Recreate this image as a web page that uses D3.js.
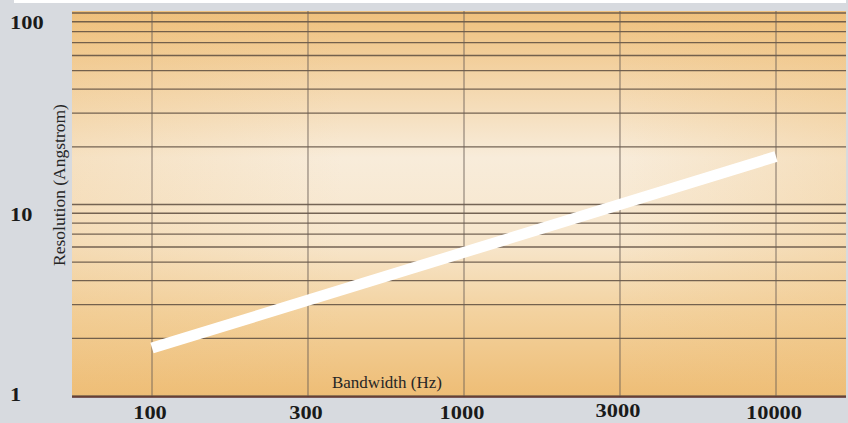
<!DOCTYPE html>
<html>
<head>
<meta charset="utf-8">
<script src="https://cdn.jsdelivr.net/npm/d3@7"></script>
<style>
  body { margin: 0; background: #d7dadf; }
  svg { display: block; }
</style>
</head>
<body>
<svg id="chart"></svg>
<script>
// bandwidth (Hz) vs resolution (Angstrom), log-log
const bandwidth = [100, 10000];
const resolution = [1.78, 17.8];

const xTickValues = [100, 316.2, 1000, 3162, 10000];
const xTickLabels = ['100', '300', '1000', '3000', '10000'];
const yTickValues = [1, 10, 100];
const yTickLabels = ['1', '10', '100'];
const yGridValues = [1, 2, 3, 4, 5, 6, 7, 8, 9, 10, 20, 30, 40, 50, 60, 70, 80, 90, 100];

const width = 848, height = 423;
const plot = { left: 72, right: 846, top: 11, bottom: 397 };

const svg = d3.select('#chart').attr('width', width).attr('height', height);

// white strip along the top
svg.append('rect').attr('x', 14).attr('y', 0).attr('width', 832).attr('height', 3).attr('fill', '#ffffff');

const defs = svg.append('defs');
const grad = defs.append('linearGradient').attr('id', 'bg')
  .attr('x1', 0).attr('y1', 0).attr('x2', 0).attr('y2', 1);
grad.append('stop').attr('offset', '0%').attr('stop-color', '#efc07c');
grad.append('stop').attr('offset', '15%').attr('stop-color', '#f3d2a2');
grad.append('stop').attr('offset', '38%').attr('stop-color', '#f8ecda');
grad.append('stop').attr('offset', '60%').attr('stop-color', '#f7e6cc');
grad.append('stop').attr('offset', '78%').attr('stop-color', '#f3d29f');
grad.append('stop').attr('offset', '100%').attr('stop-color', '#eebd75');

// slight side shading
const side = defs.append('linearGradient').attr('id', 'side')
  .attr('x1', 0).attr('y1', 0).attr('x2', 1).attr('y2', 0);
side.append('stop').attr('offset', '0%').attr('stop-color', '#eebf78').attr('stop-opacity', 0.25);
side.append('stop').attr('offset', '35%').attr('stop-color', '#eebf78').attr('stop-opacity', 0);
side.append('stop').attr('offset', '70%').attr('stop-color', '#eebf78').attr('stop-opacity', 0);
side.append('stop').attr('offset', '100%').attr('stop-color', '#eebf78').attr('stop-opacity', 0.3);

const x = d3.scaleLog().domain([100, 10000]).range([152, 776]);
const y = d3.scaleLog().domain([1, 100]).range([396, 13]);

svg.append('rect')
  .attr('x', plot.left).attr('y', plot.top)
  .attr('width', plot.right - plot.left).attr('height', plot.bottom - plot.top)
  .attr('fill', 'url(#bg)');
svg.append('rect')
  .attr('x', plot.left).attr('y', plot.top)
  .attr('width', plot.right - plot.left).attr('height', plot.bottom - plot.top)
  .attr('fill', 'url(#side)');

// horizontal grid
svg.append('g').selectAll('line').data(yGridValues).join('line')
  .attr('x1', plot.left).attr('x2', plot.right)
  .attr('y1', d => y(d)).attr('y2', d => y(d))
  .attr('stroke', '#5e4e40').attr('stroke-width', 1.3).attr('opacity', 0.85);

// vertical grid
svg.append('g').selectAll('line').data(xTickValues).join('line')
  .attr('x1', d => x(d)).attr('x2', d => x(d))
  .attr('y1', plot.top).attr('y2', plot.bottom)
  .attr('stroke', '#6a5e56').attr('stroke-width', 1).attr('opacity', 0.85);

// bottom edge
svg.append('line')
  .attr('x1', plot.left).attr('x2', plot.right)
  .attr('y1', plot.bottom).attr('y2', plot.bottom)
  .attr('stroke', '#5a2e2a').attr('stroke-width', 1.6);

// the curve
const line = d3.line().x(d => x(d[0])).y(d => y(d[1]));
svg.append('path')
  .datum(d3.zip(bandwidth, resolution))
  .attr('d', line)
  .attr('fill', 'none').attr('stroke', '#ffffff')
  .attr('stroke-width', 11).attr('stroke-linecap', 'butt');

// tick labels are wide bold serif digits
const digitW = 11.2;

svg.append('g').selectAll('text').data(yTickValues).join('text')
  .attr('x', 10).attr('y', d => Math.min(y(d) + 16, 401))
  .attr('font-family', 'Liberation Serif, serif').attr('font-weight', 'bold')
  .attr('font-size', 18).attr('fill', '#1a1a1a')
  .attr('textLength', (d, i) => Math.max(9, yTickLabels[i].length * digitW))
  .attr('lengthAdjust', 'spacingAndGlyphs')
  .text((d, i) => yTickLabels[i]);

svg.append('g').selectAll('text').data(xTickValues).join('text')
  .attr('x', d => x(d) - 2).attr('y', (d, i) => i === 3 ? 417 : 419)
  .attr('text-anchor', 'middle')
  .attr('font-family', 'Liberation Serif, serif').attr('font-weight', 'bold')
  .attr('font-size', 18).attr('fill', '#1a1a1a')
  .attr('textLength', (d, i) => xTickLabels[i].length * digitW)
  .attr('lengthAdjust', 'spacingAndGlyphs')
  .text((d, i) => xTickLabels[i]);

// axis titles
svg.append('text')
  .attr('transform', 'translate(65,185) rotate(-90)')
  .attr('text-anchor', 'middle')
  .attr('font-family', 'Liberation Serif, serif').attr('font-size', 17.5)
  .attr('fill', '#262626')
  .text('Resolution (Angstrom)');

svg.append('text')
  .attr('x', 387).attr('y', 388)
  .attr('text-anchor', 'middle')
  .attr('font-family', 'Liberation Serif, serif').attr('font-size', 17)
  .attr('fill', '#262626')
  .text('Bandwidth (Hz)');
</script>
</body>
</html>
